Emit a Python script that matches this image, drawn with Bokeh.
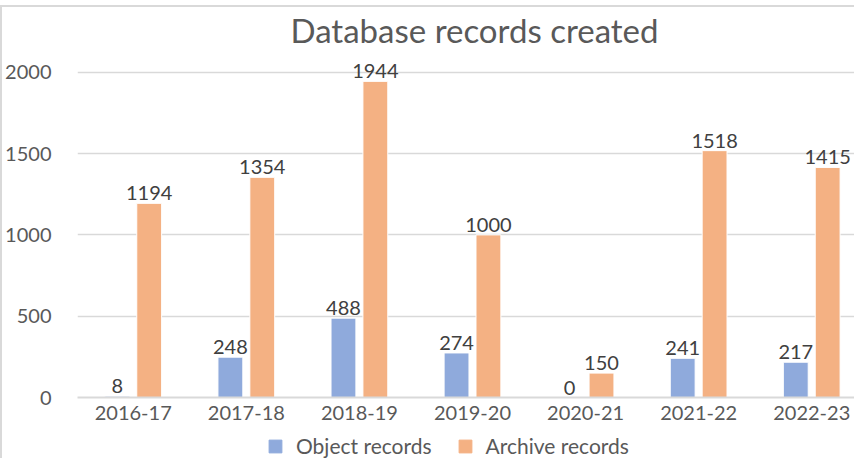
from bokeh.plotting import figure
from bokeh.layouts import column
from bokeh.models import ColumnDataSource, Range1d, FixedTicker, Legend, LegendItem, Title
from bokeh.transform import dodge
from bokeh.core.properties import value
from bokeh.embed import file_html
from bokeh.resources import INLINE

# ---- data ----
years = ["2016-17", "2017-18", "2018-19", "2019-20", "2020-21", "2021-22", "2022-23"]
object_records = [8, 248, 488, 274, 0, 241, 217]
archive_records = [1194, 1354, 1944, 1000, 150, 1518, 1415]
y_ticks = [0, 500, 1000, 1500, 2000]
series_names = ["Object records", "Archive records"]

idx = list(range(len(years)))
src = ColumnDataSource(dict(
    x=idx,
    obj=object_records,
    arc=archive_records,
    obj_lbl=[str(v) for v in object_records],
    arc_lbl=[str(v) for v in archive_records],
))

FONT = "Lato"
GRAY = "#595959"
BLUE = "#8faadc"
ORANGE = "#f4b183"
LINE = "#d9d9d9"

p = figure(width=854, height=424, output_backend="svg", toolbar_location=None,
           x_range=Range1d(-0.493, 6.396), y_range=Range1d(0, 2140),
           min_border_left=70, min_border_right=0, min_border_bottom=34, min_border_top=0)
# outer chart border: 5px white gap then 2px grey line on top, 2px grey line on left
p.styles = {
    "border-style": "solid",
    "border-width": "7px 0px 0px 2px",
    "border-image": f"linear-gradient(to bottom, #ffffff 5px, {LINE} 5px) 7 0 0 7",
}
p.outline_line_color = None

title = Title(text="Database records created", align="left", text_font=FONT,
              text_font_size="33px", text_font_style="normal", text_color=GRAY,
              standoff=0, offset=213)
p.add_layout(title, "above")

W = 0.22
OFF = 0.141
p.vbar(x=dodge("x", -OFF), top="obj", width=W, source=src,
       fill_color=BLUE, line_color="white", line_width=1)
p.vbar(x=dodge("x", OFF), top="arc", width=W, source=src,
       fill_color=ORANGE, line_color="white", line_width=1)

for col, lbl, off in (("obj", "obj_lbl", -OFF), ("arc", "arc_lbl", OFF)):
    p.text(x=dodge("x", off), y=col, text=lbl, source=src,
           text_font=value(FONT), text_font_size="20px", text_color="#404040",
           text_align="center", text_baseline="alphabetic", y_offset=-10)

# axes
p.yaxis.ticker = FixedTicker(ticks=y_ticks)
p.yaxis.axis_line_color = None
p.yaxis.major_tick_line_color = None
p.yaxis.minor_tick_line_color = None
p.yaxis.major_tick_out = 0
p.yaxis.major_tick_in = 0
p.yaxis.major_label_standoff = 26
p.yaxis.major_label_text_font = FONT
p.yaxis.major_label_text_font_size = "20px"
p.yaxis.major_label_text_color = GRAY

p.xaxis.ticker = FixedTicker(ticks=idx)
p.xaxis.major_label_overrides = {i: y for i, y in zip(idx, years)}
p.xaxis.axis_line_color = LINE
p.xaxis.axis_line_width = 2
p.xaxis.major_tick_line_color = None
p.xaxis.minor_tick_line_color = None
p.xaxis.major_tick_out = 0
p.xaxis.major_tick_in = 0
p.xaxis.major_label_standoff = 8
p.xaxis.major_label_text_font = FONT
p.xaxis.major_label_text_font_size = "20px"
p.xaxis.major_label_text_color = GRAY

p.xgrid.grid_line_color = None
p.ygrid.grid_line_color = LINE
p.ygrid.grid_line_width = 1.5

# legend strip: a second figure whose (hidden) renderers carry the series styles
pl = figure(width=854, height=34, output_backend="svg", toolbar_location=None,
            x_range=p.x_range, y_range=Range1d(-2, -1),
            x_axis_location=None, y_axis_location=None, min_border=0)
pl.styles = {"border-left": f"2px solid {LINE}"}
pl.outline_line_color = None
pl.grid.visible = False
l_obj = pl.vbar(x=dodge("x", -OFF), top="obj", width=W, source=src,
                fill_color=BLUE, line_color=BLUE)
l_arc = pl.vbar(x=dodge("x", OFF), top="arc", width=W, source=src,
                fill_color=ORANGE, line_color=ORANGE)
l_obj.visible = False
l_arc.visible = False
legend = Legend(items=[LegendItem(label=series_names[0], renderers=[l_obj]),
                       LegendItem(label=series_names[1], renderers=[l_arc])],
                orientation="horizontal", location=(190, 0),
                glyph_width=16, glyph_height=16, label_standoff=13, spacing=25,
                padding=0, margin=0, border_line_color=None, background_fill_alpha=0,
                label_text_font=FONT, label_text_font_size="21px", label_text_color=GRAY)
pl.add_layout(legend, "center")

layout = column(p, pl, spacing=0)
open("out.html", "w").write(file_html(layout, INLINE))
